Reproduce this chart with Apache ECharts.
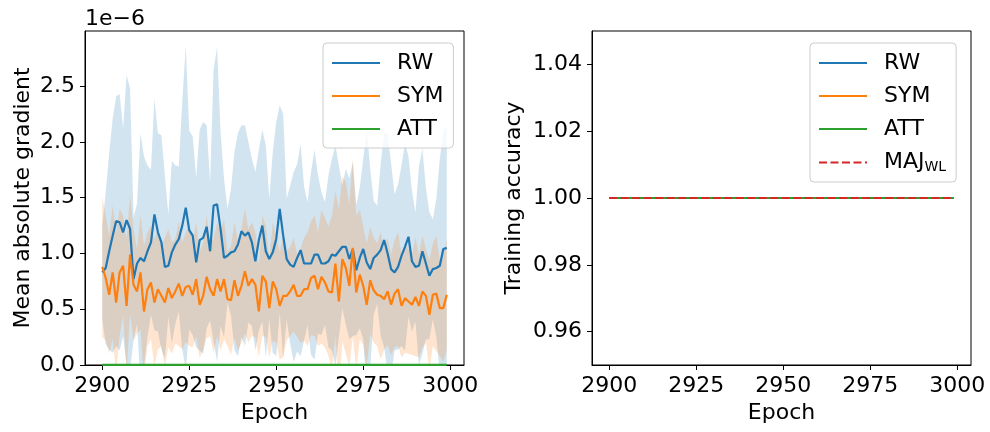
<!DOCTYPE html>
<html><head><meta charset="utf-8">
<script src="https://cdn.jsdelivr.net/npm/echarts@6/dist/echarts.min.js"></script>
<style>html,body{margin:0;padding:0;background:#fff}#c{width:990px;height:432px}</style>
</head><body><div id="c"></div>
<script>
const epochs = [
2900,2901,2902,2903,2904,2905,2906,2907,2908,2909,
2910,2911,2912,2913,2914,2915,2916,2917,2918,2919,
2920,2921,2922,2923,2924,2925,2926,2927,2928,2929,
2930,2931,2932,2933,2934,2935,2936,2937,2938,2939,
2940,2941,2942,2943,2944,2945,2946,2947,2948,2949,
2950,2951,2952,2953,2954,2955,2956,2957,2958,2959,
2960,2961,2962,2963,2964,2965,2966,2967,2968,2969,
2970,2971,2972,2973,2974,2975,2976,2977,2978,2979,
2980,2981,2982,2983,2984,2985,2986,2987,2988,2989,
2990,2991,2992,2993,2994,2995,2996,2997,2998,2999];

// Mean absolute gradient (units of 1e-6)
const rwMean = [
0.83,0.87,1.02,1.16,1.29,1.28,1.19,1.30,1.22,0.77,
0.91,0.96,0.93,1.02,1.10,1.35,1.19,1.10,0.88,0.89,
1.01,1.08,1.13,1.25,1.41,1.21,1.16,0.92,1.12,1.14,
1.24,1.02,1.43,1.44,1.22,0.96,0.98,1.01,1.02,1.08,
1.20,1.16,1.19,1.10,0.93,1.12,1.25,1.02,0.95,1.01,
1.13,1.40,1.16,0.95,0.90,0.88,0.96,1.03,0.91,0.91,
0.91,0.99,0.99,0.91,0.91,0.93,0.99,0.98,1.02,1.06,
1.06,0.95,1.04,0.85,0.96,1.04,0.92,0.86,0.96,0.99,
1.03,1.12,1.00,0.86,0.83,0.88,0.98,1.06,1.15,0.93,
0.88,0.89,1.02,0.91,0.80,0.86,0.87,0.89,1.04,1.05];
const rwStd = [
0.42,0.68,0.88,1.05,1.12,1.15,0.93,1.30,1.26,0.55,
0.54,1.12,0.94,0.77,0.65,1.04,0.89,0.96,0.82,0.46,
0.82,0.71,0.65,1.11,1.45,0.89,0.89,0.76,0.99,1.04,
0.91,0.62,1.22,1.41,0.87,0.71,0.42,0.57,0.89,1.00,
0.95,0.99,0.81,0.75,0.80,0.81,0.86,0.95,0.54,0.90,
1.05,0.93,1.09,0.54,0.71,0.85,0.84,0.95,0.69,0.55,
0.82,0.94,0.71,0.64,0.55,0.77,0.86,0.99,0.77,0.55,
0.70,0.72,0.78,0.58,0.63,0.81,1.20,0.90,0.51,0.44,
0.77,0.96,1.07,0.95,0.70,0.74,0.81,0.93,0.72,0.63,
0.49,0.89,0.92,0.68,0.57,0.45,0.62,0.96,1.05,1.10];
const symMean = [
0.88,0.78,0.63,0.83,0.56,0.83,0.89,0.53,0.99,0.72,
0.66,0.83,0.48,0.68,0.74,0.56,0.68,0.62,0.56,0.69,
0.60,0.66,0.73,0.62,0.70,0.71,0.63,0.77,0.54,0.62,
0.79,0.68,0.62,0.77,0.66,0.77,0.59,0.58,0.76,0.62,
0.71,0.84,0.71,0.77,0.72,0.48,0.80,0.75,0.51,0.75,
0.68,0.53,0.62,0.62,0.66,0.72,0.62,0.62,0.68,0.68,
0.78,0.80,0.68,0.79,0.74,0.66,0.65,0.91,0.57,0.95,
0.87,0.71,1.05,0.65,0.81,0.71,0.54,0.76,0.67,0.63,
0.62,0.59,0.66,0.54,0.64,0.68,0.53,0.60,0.57,0.54,
0.61,0.53,0.66,0.62,0.45,0.63,0.64,0.51,0.51,0.63];
const symStd = [
0.63,0.56,0.53,0.60,0.63,0.57,0.45,0.60,0.53,0.50,
0.38,0.51,0.59,0.51,0.51,0.57,0.54,0.45,0.58,0.53,
0.50,0.47,0.56,0.48,0.49,0.54,0.47,0.51,0.48,0.48,
0.55,0.42,0.51,0.51,0.53,0.54,0.42,0.49,0.52,0.49,
0.51,0.56,0.51,0.51,0.47,0.41,0.54,0.50,0.44,0.53,
0.48,0.48,0.55,0.40,0.40,0.42,0.37,0.42,0.46,0.51,
0.51,0.54,0.51,0.60,0.58,0.58,0.69,0.65,0.82,0.74,
0.77,0.73,0.80,0.69,0.58,0.53,0.55,0.48,0.47,0.46,
0.57,0.45,0.48,0.45,0.48,0.51,0.46,0.49,0.47,0.45,
0.53,0.46,0.50,0.42,0.49,0.46,0.52,0.43,0.48,0.49];
const attMean = [
0.002,0.002,0.002,0.002,0.002,0.002,0.002,0.002,0.002,0.002,
0.002,0.002,0.002,0.002,0.002,0.002,0.002,0.002,0.002,0.002,
0.002,0.002,0.002,0.002,0.002,0.002,0.002,0.002,0.002,0.002,
0.002,0.002,0.002,0.002,0.002,0.002,0.002,0.002,0.002,0.002,
0.002,0.002,0.002,0.002,0.002,0.002,0.002,0.002,0.002,0.002,
0.002,0.002,0.002,0.002,0.002,0.002,0.002,0.002,0.002,0.002,
0.002,0.002,0.002,0.002,0.002,0.002,0.002,0.002,0.002,0.002,
0.002,0.002,0.002,0.002,0.002,0.002,0.002,0.002,0.002,0.002,
0.002,0.002,0.002,0.002,0.002,0.002,0.002,0.002,0.002,0.002,
0.002,0.002,0.002,0.002,0.002,0.002,0.002,0.002,0.002,0.002];

// Training accuracy
const accRW = [
1,1,1,1,1,1,1,1,1,1, 1,1,1,1,1,1,1,1,1,1, 1,1,1,1,1,1,1,1,1,1, 1,1,1,1,1,1,1,1,1,1, 1,1,1,1,1,1,1,1,1,1,
1,1,1,1,1,1,1,1,1,1, 1,1,1,1,1,1,1,1,1,1, 1,1,1,1,1,1,1,1,1,1, 1,1,1,1,1,1,1,1,1,1, 1,1,1,1,1,1,1,1,1,1];
const accSYM = [
1,1,1,1,1,1,1,1,1,1, 1,1,1,1,1,1,1,1,1,1, 1,1,1,1,1,1,1,1,1,1, 1,1,1,1,1,1,1,1,1,1, 1,1,1,1,1,1,1,1,1,1,
1,1,1,1,1,1,1,1,1,1, 1,1,1,1,1,1,1,1,1,1, 1,1,1,1,1,1,1,1,1,1, 1,1,1,1,1,1,1,1,1,1, 1,1,1,1,1,1,1,1,1,1];
const accATT = [
1,1,1,1,1,1,1,1,1,1, 1,1,1,1,1,1,1,1,1,1, 1,1,1,1,1,1,1,1,1,1, 1,1,1,1,1,1,1,1,1,1, 1,1,1,1,1,1,1,1,1,1,
1,1,1,1,1,1,1,1,1,1, 1,1,1,1,1,1,1,1,1,1, 1,1,1,1,1,1,1,1,1,1, 1,1,1,1,1,1,1,1,1,1, 1,1,1,1,1,1,1,1,1,1];
const accMAJ = [
1,1,1,1,1,1,1,1,1,1, 1,1,1,1,1,1,1,1,1,1, 1,1,1,1,1,1,1,1,1,1, 1,1,1,1,1,1,1,1,1,1, 1,1,1,1,1,1,1,1,1,1,
1,1,1,1,1,1,1,1,1,1, 1,1,1,1,1,1,1,1,1,1, 1,1,1,1,1,1,1,1,1,1, 1,1,1,1,1,1,1,1,1,1, 1,1,1,1,1,1,1,1,1,1];

const xTicks = [2900, 2925, 2950, 2975, 3000];
const gradTicks = [0, 0.5, 1.0, 1.5, 2.0, 2.5];
const accTicks = [0.96, 0.98, 1.00, 1.02, 1.04];
const gradScaleText = '1e\u22126';
const legendLeftNames = ['RW', 'SYM', 'ATT'];
const legendRightNames = ['RW', 'SYM', 'ATT', 'MAJ_WL'];

const FONT = 'DejaVu Sans';
const COL = {rw: '#1f77b4', sym: '#ff7f0e', att: '#2ca02c', maj: '#d62728'};
const FILL = {rw: 'rgba(31,119,180,0.2)', sym: 'rgba(255,127,14,0.2)'};

const pairs = ys => epochs.map((e, i) => [e, ys[i]]);

const chart = echarts.init(document.getElementById('c'), null, {renderer: 'canvas'});

function xAxisCfg(gi) {
  return {
    type: 'value', gridIndex: gi, min: 2895.05, max: 3003.95,
    name: 'Epoch', nameLocation: 'middle', nameGap: 36,
    nameTextStyle: {fontFamily: FONT, fontSize: 22, color: '#000'},
    axisLine: {show: true, onZero: false, lineStyle: {color: '#000', width: 1}},
    axisTick: {show: true, length: 5, lineStyle: {color: '#000', width: 1}, customValues: xTicks},
    axisLabel: {fontFamily: FONT, fontSize: 22, color: '#000', margin: 10, customValues: xTicks,
      formatter: v => String(Math.round(v))},
    splitLine: {show: false}
  };
}
function yAxisCfg(gi, min, max, ticks, dec, name, gap) {
  return {
    type: 'value', gridIndex: gi, min: min, max: max,
    name: name, nameLocation: 'middle', nameGap: gap,
    nameTextStyle: {fontFamily: FONT, fontSize: 22, color: '#000'},
    axisLine: {show: true, onZero: false, lineStyle: {color: '#000', width: 1}},
    axisTick: {show: true, length: 5, lineStyle: {color: '#000', width: 1}, customValues: ticks},
    axisLabel: {fontFamily: FONT, fontSize: 22, color: '#000', margin: 10, customValues: ticks,
      formatter: v => Number(v).toFixed(dec)},
    splitLine: {show: false}
  };
}
function legendCfg(left, names) {
  return {
    left: left, top: 43, orient: 'vertical',
    data: names,
    padding: [9, 10, 8, 8],
    itemWidth: 48, itemHeight: 14, itemGap: 11,
    backgroundColor: 'rgba(255,255,255,0.8)',
    borderColor: '#cccccc', borderWidth: 1, borderRadius: 4,
    selectedMode: false,
    itemStyle: {opacity: 0},
    formatter: n => n === 'MAJ_WL' ? 'MAJ{s|WL}' : n,
    textStyle: {fontFamily: FONT, fontSize: 22, color: '#000', lineHeight: 22, padding: [0, 0, 0, 12],
      rich: {s: {fontFamily: FONT, fontSize: 14, color: '#000', lineHeight: 14, padding: [9, 0, 0, 0]}}}
  };
}
const lineBase = {type: 'line', symbol: 'none', showSymbol: false, animation: false, z: 3};

function bandSeries(mean, std, fill) {
  return {
    type: 'custom', xAxisIndex: 0, yAxisIndex: 0, clip: true, silent: true, z: 1,
    data: [[epochs[0], mean[0]]],
    renderItem: (params, api) => {
      const up = epochs.map((e, i) => api.coord([e, mean[i] + std[i]]));
      const lo = epochs.map((e, i) => api.coord([e, mean[i] - std[i]])).reverse();
      return {type: 'polygon', shape: {points: up.concat(lo)}, style: {fill: fill}};
    }
  };
}

const option = {
  backgroundColor: '#fff',
  animation: false,
  textStyle: {fontFamily: FONT},
  grid: [
    {left: 85, top: 31, width: 379, height: 334, show: true, borderColor: '#000', borderWidth: 1, backgroundColor: 'transparent'},
    {left: 592, top: 31, width: 379, height: 334, show: true, borderColor: '#000', borderWidth: 1, backgroundColor: 'transparent'}
  ],
  xAxis: [xAxisCfg(0), xAxisCfg(1)],
  yAxis: [
    yAxisCfg(0, 0, 2.995, gradTicks, 1, 'Mean absolute gradient', 51),
    yAxisCfg(1, 0.95, 1.05, accTicks, 2, 'Training accuracy', 67)
  ],
  legend: [legendCfg(323, legendLeftNames), legendCfg(810, legendRightNames)],
  graphic: [{
    type: 'text', x: 85, y: 19, z: 10,
    style: {text: gradScaleText, font: '22px "DejaVu Sans"', fill: '#000', align: 'left', verticalAlign: 'middle'}
  }],
  series: [
    bandSeries(rwMean, rwStd, FILL.rw),
    bandSeries(symMean, symStd, FILL.sym),
    Object.assign({}, lineBase, {name: 'RW', data: pairs(rwMean), color: COL.rw, lineStyle: {color: COL.rw, width: 2.2}, xAxisIndex: 0, yAxisIndex: 0}),
    Object.assign({}, lineBase, {name: 'SYM', data: pairs(symMean), color: COL.sym, lineStyle: {color: COL.sym, width: 2.2}, xAxisIndex: 0, yAxisIndex: 0}),
    Object.assign({}, lineBase, {name: 'ATT', data: pairs(attMean), color: COL.att, lineStyle: {color: COL.att, width: 2.2}, xAxisIndex: 0, yAxisIndex: 0}),
    Object.assign({}, lineBase, {name: 'RW', data: pairs(accRW), color: COL.rw, lineStyle: {color: COL.rw, width: 2.2}, xAxisIndex: 1, yAxisIndex: 1}),
    Object.assign({}, lineBase, {name: 'SYM', data: pairs(accSYM), color: COL.sym, lineStyle: {color: COL.sym, width: 2.2}, xAxisIndex: 1, yAxisIndex: 1}),
    Object.assign({}, lineBase, {name: 'ATT', data: pairs(accATT), color: COL.att, lineStyle: {color: COL.att, width: 2.2}, xAxisIndex: 1, yAxisIndex: 1}),
    Object.assign({}, lineBase, {name: 'MAJ_WL', data: pairs(accMAJ), color: COL.maj, lineStyle: {color: COL.maj, width: 2.2, type: [8, 3.5]}, xAxisIndex: 1, yAxisIndex: 1})
  ]
};
chart.setOption(option);
</script></body></html>
